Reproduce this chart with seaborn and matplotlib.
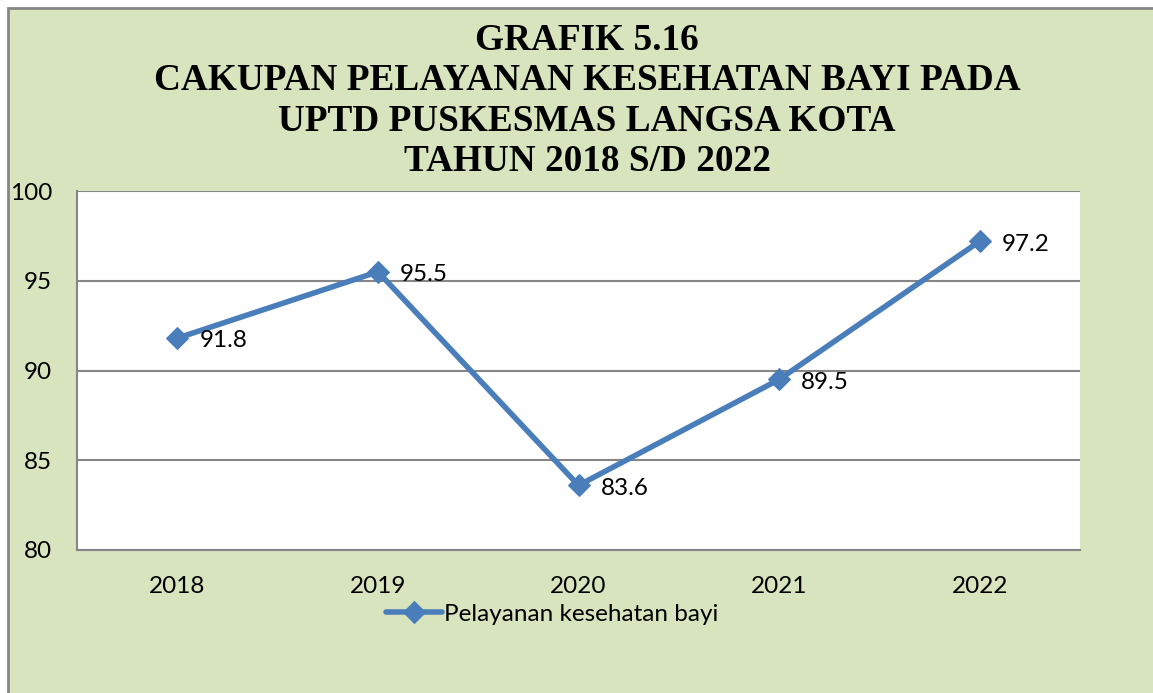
import matplotlib
matplotlib.use("Agg")
import matplotlib.pyplot as plt
import seaborn as sns
import pandas as pd
from matplotlib.patches import Rectangle

years = ["2018", "2019", "2020", "2021", "2022"]
values = [91.8, 95.5, 83.6, 89.5, 97.2]
series_name = "Pelayanan kesehatan bayi"
title = "GRAFIK 5.16\nCAKUPAN PELAYANAN KESEHATAN BAYI PADA\nUPTD PUSKESMAS LANGSA KOTA\nTAHUN 2018 S/D 2022"
y_ticks = [80, 85, 90, 95, 100]

sns.set_theme(style="white")
plt.rcParams['font.family'] = ['Lato', 'DejaVu Sans']
plt.rcParams['text.color'] = 'black'
plt.rcParams['xtick.color'] = 'black'
plt.rcParams['ytick.color'] = 'black'

W, H = 1153, 693
fig = plt.figure(figsize=(W / 100, H / 100), dpi=100, facecolor="white")

bg = "#D7E4BD"
grey = "#868686"
line_c = "#4A7EBB"
fs = 17.5

# outer chart area with border on left/top
fig.patches.append(Rectangle((8 / W, -0.05), 1.1, (H - 8) / H + 0.05, transform=fig.transFigure,
                             facecolor=bg, edgecolor=grey, linewidth=2, zorder=-5))

ax = fig.add_axes([77 / W, (H - 550) / H, (1080 - 77) / W, (550 - 191) / H])
ax.set_zorder(2)
ax.set_facecolor("white")

df = pd.DataFrame({"Tahun": years, "Nilai": values})
df["x"] = range(len(years))
sns.lineplot(data=df, x="x", y="Nilai", ax=ax, color=line_c, linewidth=4,
             marker="D", markersize=11, markeredgecolor=line_c, label=series_name, zorder=3)

for xi, v in zip(df["x"], df["Nilai"]):
    ax.annotate(f"{v}", (xi, v), xytext=(16, -2), textcoords="offset points",
                ha="left", va="center", fontsize=fs, color="black")

ax.set_xlim(-0.5, len(years) - 0.5)
ax.set_ylim(80, 100)
ax.set_yticks(y_ticks)
ax.set_yticklabels([str(t) for t in y_ticks], fontsize=fs)
ax.set_xticks(range(len(years)))
ax.set_xticklabels(years, fontsize=fs)
ax.set_xticks([i - 0.5 for i in range(len(years) + 1)], minor=True)
ax.tick_params(axis="x", which="major", length=0, pad=19, labelcolor="black")
ax.tick_params(axis="x", which="minor", length=6, width=1.5, color=grey, direction="out")
ax.tick_params(axis="y", length=7, width=1.5, color=grey, direction="out", pad=11, labelcolor="black")
ax.set_xlabel("")
ax.set_ylabel("")
ax.yaxis.grid(True, color=grey, linewidth=1.5)
ax.set_axisbelow(True)
for s in ["top", "right"]:
    ax.spines[s].set_visible(False)
for s in ["left", "bottom"]:
    ax.spines[s].set_color(grey)
    ax.spines[s].set_linewidth(1.5)

leg = ax.legend(loc="center", bbox_to_anchor=(552 / W, 1 - 614 / H), bbox_transform=fig.transFigure,
                frameon=False, fontsize=fs, handlelength=2.3, handletextpad=0.1)
for t in leg.get_texts():
    t.set_color("black")

fig.text(587 / W, 1 - 101 / H, title, ha="center", va="center", fontsize=26.8, fontweight="bold",
         family="Liberation Serif", linespacing=1.2, color="black")

fig.savefig("out.png", dpi=100, facecolor=fig.get_facecolor())
